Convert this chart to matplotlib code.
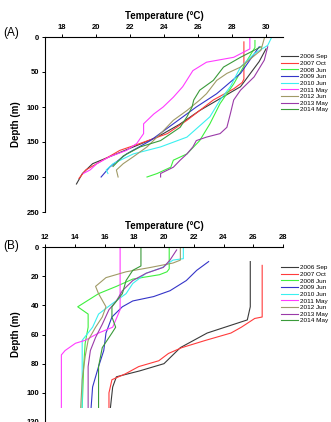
import matplotlib
matplotlib.use('Agg')
import matplotlib.pyplot as plt

plt.rcParams['font.family'] = ['Liberation Sans', 'DejaVu Sans']

labels = ['2006 Sep', '2007 Oct', '2008 Jun', '2009 Jun', '2010 Jun',
          '2011 May', '2012 Jun', '2013 May', '2014 May']
colors = ['#3a3a3a', '#ff3b3b', '#3ef03e', '#3434c8', '#3af0f0',
          '#ff3cff', '#a09a66', '#9a3aa8', '#3a9a3a']

# panel A profiles: (temperature, depth)
A_temp = [
    [30.0, 29.6, 28.5, 27.3, 26.1, 24.9, 23.6, 22.4, 21.2, 19.8, 19.2, 18.85],
    [28.7, 28.7, 28.7, 28.6, 28.1, 26.9, 25.35, 24.2, 22.6, 21.4, 20.4, 19.4, 19.0],
    [29.35, 29.35, 28.9, 28.1, 27.3, 26.7, 26.1, 25.35, 24.55, 24.4, 23.6, 23.0],
    [29.6, 28.5, 27.1, 25.9, 24.55, 23.2, 21.8, 20.8, 20.3],
    [30.3, 30.1, 29.3, 28.5, 27.9, 27.3, 26.7, 25.35, 23.8, 22.2, 21.0, 20.6, 20.7],
    [29.05, 29.05, 28.1, 26.5, 25.7, 25.1, 24.55, 23.95, 23.4, 22.8, 22.8, 22.4,
     21.8, 20.8, 20.05, 19.65, 19.25],
    [29.9, 29.7, 28.5, 27.7, 27.1, 26.5, 26.1, 25.35, 24.55, 23.8, 23.0, 22.2,
     21.6, 21.2, 21.3],
    [30.1, 29.9, 29.3, 28.5, 28.1, 27.9, 27.7, 27.3, 26.5, 25.9, 25.7, 25.35,
     24.95, 24.55, 23.8, 23.8],
    [29.7, 28.5, 27.5, 26.9, 26.1, 25.75, 25.65, 25.35, 24.95, 23.8, 22.6, 21.6, 21.0],
]
A_depth = [
    [17, 35, 71, 88, 105, 125, 143, 155, 167, 181, 195, 210],
    [7, 30, 60, 65, 74, 90, 119, 138, 152, 162, 176, 190, 202],
    [5, 15, 33, 67, 95, 124, 148, 167, 176, 186, 195, 200],
    [14, 52, 81, 100, 124, 148, 167, 186, 200],
    [2, 12, 24, 43, 71, 90, 114, 143, 157, 167, 181, 190, 195],
    [0, 17, 29, 36, 48, 71, 86, 100, 110, 124, 138, 152, 162, 171, 181, 190, 195],
    [2, 19, 43, 52, 62, 81, 90, 105, 119, 138, 157, 171, 181, 190, 200],
    [14, 33, 57, 76, 90, 110, 129, 138, 143, 148, 157, 167, 176, 186, 195, 200],
    [14, 29, 43, 62, 76, 90, 100, 114, 129, 148, 157, 170, 185],
]

# panel B profiles
B_temp = [
    [25.8, 25.8, 25.6, 22.9, 21.1, 20.0, 18.35, 16.8, 16.55, 16.4],
    [26.6, 26.6, 26.1, 25.2, 24.5, 22.8, 21.2, 20.3, 19.65, 18.3, 17.4, 16.5, 16.3, 16.3],
    [20.35, 20.35, 20.2, 19.7, 17.9, 16.8, 15.6, 14.2, 14.9, 14.9, 14.7, 14.6, 14.5],
    [23.0, 22.2, 21.5, 20.4, 19.3, 17.9, 17.2, 16.5, 16.1, 15.95, 15.6, 15.2, 15.1],
    [21.3, 21.3, 20.6, 19.9, 18.8, 17.9, 17.45, 16.5, 15.6, 15.2, 14.5, 14.5, 14.5],
    [17.05, 17.05, 16.55, 15.6, 14.7, 14.05, 13.35, 13.1, 13.1],
    [21.1, 21.1, 20.6, 19.1, 17.45, 16.1, 15.4, 15.6, 16.1, 15.85, 15.4, 14.9, 14.7, 14.5, 14.4],
    [20.85, 20.4, 19.95, 18.8, 17.9, 17.2, 16.8, 16.3, 15.85, 15.4, 15.05, 14.9, 14.9],
    [18.45, 18.45, 17.9, 17.45, 17.2, 16.5, 16.5, 16.75, 16.5, 15.85, 15.6, 15.6],
]
B_depth = [
    [10, 41, 50, 59, 69, 80, 85, 89, 96, 110],
    [12.6, 48, 49, 55, 59, 64, 69, 73, 78, 82, 87, 91, 100, 110],
    [0, 15, 17, 19, 22, 27, 32, 41, 46, 55, 66, 82, 110],
    [10, 16, 23, 30, 34, 37, 41, 48, 59, 71, 82, 96, 110],
    [0, 8, 9, 14, 18, 25, 32, 39, 46, 55, 64, 82, 110],
    [0, 43, 55, 59, 64, 66, 71, 74, 110],
    [0, 9, 11, 14, 17, 21, 27, 32, 41, 48, 55, 64, 75, 91, 110],
    [2, 9, 14, 18, 23, 30, 37, 43, 53, 62, 71, 82, 110],
    [0, 13, 16, 23, 32, 41, 48, 55, 59, 69, 82, 110],
]

W, H = 331, 422
fig = plt.figure(figsize=(W / 100, H / 100), dpi=100)
axA = fig.add_axes([45 / W, 1 - 212 / H, 238 / W, 175 / H])
axB = fig.add_axes([45 / W, 1 - 422 / H, 238 / W, 175 / H])


def style(ax, xlim, ylim, xticks, yticks):
    ax.set_xlim(*xlim)
    ax.set_ylim(*ylim)
    ax.set_xticks(xticks)
    ax.set_yticks(yticks)
    ax.xaxis.tick_top()
    ax.xaxis.set_label_position('top')
    ax.spines['right'].set_visible(False)
    ax.spines['bottom'].set_visible(False)
    for s in ('left', 'top'):
        ax.spines[s].set_linewidth(0.8)
    ax.tick_params(labelsize=5.5, length=2.5, width=0.7, pad=1.5)
    for t in ax.get_xticklabels() + ax.get_yticklabels():
        t.set_fontweight('bold')
    ax.set_xlabel('Temperature (°C)', fontsize=7, fontweight='bold', labelpad=4)
    ax.set_ylabel('Depth (m)', fontsize=7, fontweight='bold', labelpad=4)


for i in range(len(labels)):
    axA.plot(A_temp[i], A_depth[i], color=colors[i], lw=0.8, label=labels[i])
    axB.plot(B_temp[i], B_depth[i], color=colors[i], lw=0.8, label=labels[i])

style(axA, (17, 31), (250, 0), range(18, 31, 2), range(0, 251, 50))
style(axB, (12, 28), (120, 0), range(12, 29, 2), range(0, 121, 20))

for ax, y in ((axA, 54), (axB, 265)):
    ax.legend(loc='upper left', bbox_to_anchor=(281 / W, 1 - y / H),
              bbox_transform=fig.transFigure, frameon=False, fontsize=4.6,
              handlelength=2.6, handletextpad=0.3, labelspacing=0.18,
              borderpad=0, borderaxespad=0)

fig.text(3 / W, 1 - 33 / H, '(A)', fontsize=8.5, va='center')
fig.text(3 / W, 1 - 246 / H, '(B)', fontsize=8.5, va='center')

fig.savefig('out.png', dpi=100)
